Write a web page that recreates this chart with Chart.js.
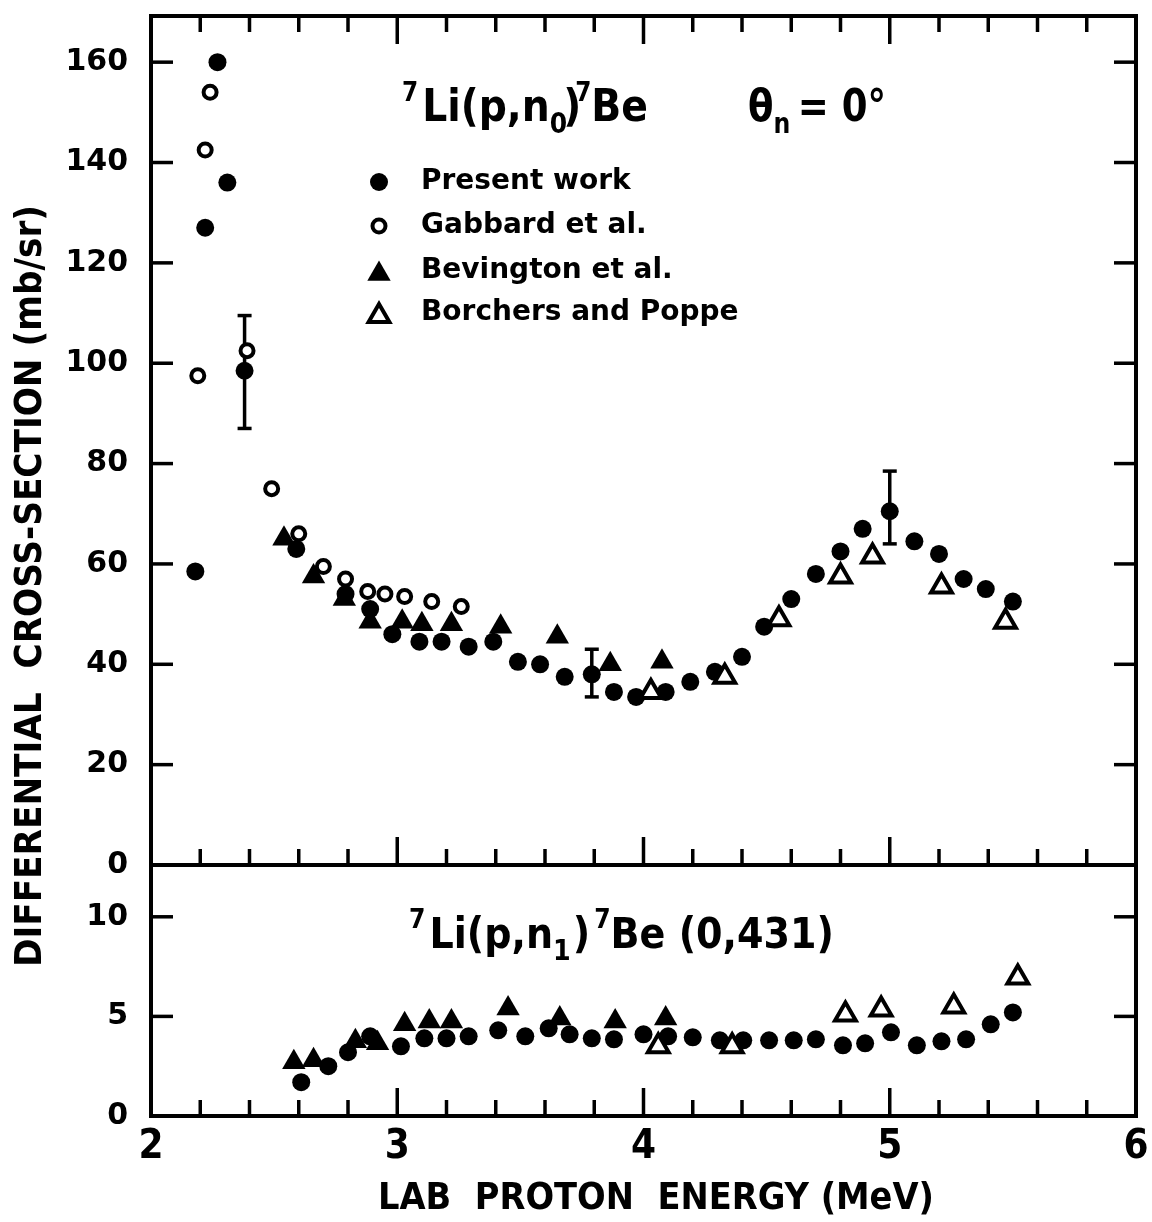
<!DOCTYPE html>
<html>
<head>
<meta charset="utf-8">
<script src="https://cdn.jsdelivr.net/npm/chart.js@4.4.1/dist/chart.umd.min.js"></script>
<style>
html, body { margin: 0; padding: 0; background: #fff; }
</style>
</head>
<body>
<canvas id="xsec" width="1152" height="1222" style="width:1152px;height:1222px"></canvas>
<script>
// 7Li(p,n0)7Be, theta = 0 deg  (energy in MeV, cross section in mb/sr)
var n0PresentE = [2.18, 2.22, 2.27, 2.31, 2.38, 2.59, 2.79, 2.89, 2.98, 3.09, 3.18, 3.29, 3.39, 3.49, 3.58, 3.68, 3.79, 3.88, 3.97, 4.09, 4.19, 4.29, 4.40, 4.49, 4.60, 4.70, 4.80, 4.89, 5.00, 5.10, 5.20, 5.30, 5.39, 5.50];
var n0PresentS = [58.5, 127, 160, 136, 98.5, 63, 54, 51, 46, 44.5, 44.5, 43.5, 44.5, 40.5, 40, 37.5, 38, 34.5, 33.5, 34.5, 36.5, 38.5, 41.5, 47.5, 53, 58, 62.5, 67, 70.5, 64.5, 62, 57, 55, 52.5];

var n0GabbardE = [2.19, 2.22, 2.24, 2.39, 2.49, 2.60, 2.70, 2.79, 2.88, 2.95, 3.03, 3.14, 3.26];
var n0GabbardS = [97.5, 142.5, 154, 102.5, 75, 66, 59.5, 57, 54.5, 54, 53.5, 52.5, 51.5];

var n0BevingtonE = [2.54, 2.66, 2.785, 2.89, 3.02, 3.10, 3.22, 3.42, 3.65, 3.865, 4.075];
var n0BevingtonS = [65, 57.5, 53, 48.5, 48.5, 48, 48, 47.5, 45.5, 40, 40.5];

var n0BorchersE = [4.03, 4.33, 4.55, 4.80, 4.93, 5.21, 5.47];
var n0BorchersS = [34.5, 37.5, 49, 57.5, 61.5, 55.5, 48.5];

// error bars on a few "present work" points
var errE = [2.38, 3.79, 5.00];
var errLo = [87, 33.5, 64];
var errHi = [109.5, 43, 78.5];

// 7Li(p,n1)7Be (0.431)
var n1PresentE = [2.61, 2.72, 2.80, 2.89, 3.015, 3.11, 3.20, 3.29, 3.41, 3.52, 3.615, 3.70, 3.79, 3.88, 4.00, 4.10, 4.20, 4.31, 4.405, 4.51, 4.61, 4.70, 4.81, 4.90, 5.005, 5.11, 5.21, 5.31, 5.41, 5.50];
var n1PresentS = [1.7, 2.5, 3.2, 4.0, 3.5, 3.9, 3.9, 4.0, 4.3, 4.0, 4.4, 4.1, 3.9, 3.85, 4.1, 4.0, 3.95, 3.8, 3.8, 3.8, 3.8, 3.85, 3.55, 3.65, 4.2, 3.55, 3.75, 3.85, 4.6, 5.2];

var n1BevingtonE = [2.58, 2.66, 2.83, 2.92, 3.03, 3.13, 3.22, 3.45, 3.66, 3.885, 4.09];
var n1BevingtonS = [2.7, 2.8, 3.75, 3.65, 4.6, 4.75, 4.75, 5.4, 4.9, 4.75, 4.9];

var n1BorchersE = [4.06, 4.36, 4.82, 4.965, 5.26, 5.52];
var n1BorchersS = [3.5, 3.5, 5.1, 5.35, 5.5, 6.95];

var xTicks = [2, 3, 4, 5, 6];
var upTicks = [0, 20, 40, 60, 80, 100, 120, 140, 160];
var loTicks = [0, 5, 10];

var legendNames = ['Present work', 'Gabbard et al.', 'Bevington et al.', 'Borchers and Poppe'];

var narrow = '"DejaVu Sans Condensed", "DejaVu Sans", sans-serif';
var wide = '"DejaVu Sans", sans-serif';

function pts(xs, ys) {
  return xs.map(function (x, i) { return { x: x, y: ys[i] }; });
}

var sym = {
  filledCircle: { pointStyle: 'circle', radius: 9, fill: '#000', border: 0 },
  openCircle: { pointStyle: 'circle', radius: 6.5, fill: '#fff', border: 4 },
  filledTri: { pointStyle: 'triangle', radius: 13.5, fill: '#000', border: 0 },
  openTri: { pointStyle: 'triangle', radius: 12, fill: '#fff', border: 4 }
};

function ds(label, xs, ys, axis, s) {
  return {
    label: label,
    data: pts(xs, ys),
    yAxisID: axis,
    pointStyle: s.pointStyle,
    pointRadius: s.radius,
    pointHoverRadius: s.radius,
    pointBackgroundColor: s.fill,
    pointBorderColor: '#000',
    pointBorderWidth: s.border
  };
}

function seg(ctx, x1, y1, x2, y2) {
  ctx.beginPath();
  ctx.moveTo(x1, y1);
  ctx.lineTo(x2, y2);
  ctx.stroke();
}

// draws a row of text pieces (for super/subscripts) squeezed to a given width
function richText(ctx, x0, base, width, pieces) {
  var total = 0;
  pieces.forEach(function (p) {
    ctx.font = p.font;
    p.w = ctx.measureText(p.t).width;
    total += p.w + (p.gap || 0);
  });
  var k = width / total;
  ctx.save();
  ctx.translate(x0, base);
  ctx.scale(k, 1);
  ctx.textBaseline = 'alphabetic';
  ctx.textAlign = 'left';
  var cx = 0;
  pieces.forEach(function (p) {
    ctx.font = p.font;
    ctx.fillText(p.t, cx, p.dy || 0);
    cx += p.w + (p.gap || 0);
  });
  ctx.restore();
}

function fitText(ctx, text, cx, cy, width, font, rot) {
  ctx.save();
  ctx.font = font;
  var w = ctx.measureText(text).width;
  ctx.translate(cx, cy);
  ctx.rotate(rot);
  ctx.scale(width / w, 1);
  ctx.textAlign = 'center';
  ctx.textBaseline = 'middle';
  ctx.fillText(text, 0, 0);
  ctx.restore();
}

// keep the plot frame where the figure has it: no extra room for edge labels
function noEdgePadding(s) {
  s.paddingTop = 0;
  s.paddingBottom = 0;
  s.paddingLeft = 0;
  s.paddingRight = 0;
}

var framePlugin = {
  id: 'frame',
  beforeDatasetsDraw: function (chart) {
    var ctx = chart.ctx;
    var sx = chart.scales.x, up = chart.scales.yUp, lo = chart.scales.yLo;
    var L = sx.left, R = sx.right, T = up.top, M = up.bottom, B = lo.bottom;
    ctx.save();
    ctx.strokeStyle = '#000';
    ctx.lineWidth = 4;
    ctx.strokeRect(L, T, R - L, B - T);
    seg(ctx, L, M, R, M);

    ctx.lineWidth = 3.5;
    for (var i = 1; i < 20; i++) {
      var px = sx.getPixelForValue(2 + i * 0.2);
      var len = (i % 5 === 0) ? 28 : 16;
      seg(ctx, px, T, px, T + len);
      seg(ctx, px, M, px, M - len);
      seg(ctx, px, B, px, B - len);
    }
    upTicks.forEach(function (v) {
      if (v === 0) return;
      var py = up.getPixelForValue(v);
      seg(ctx, L, py, L + 22, py);
      seg(ctx, R, py, R - 22, py);
    });
    loTicks.forEach(function (v) {
      if (v === 0) return;
      var py = lo.getPixelForValue(v);
      seg(ctx, L, py, L + 22, py);
      seg(ctx, R, py, R - 22, py);
    });

    // error bars
    ctx.lineWidth = 3.5;
    errE.forEach(function (e, i) {
      var px = sx.getPixelForValue(e);
      var y1 = up.getPixelForValue(errLo[i]);
      var y2 = up.getPixelForValue(errHi[i]);
      seg(ctx, px, y1, px, y2);
      seg(ctx, px - 7, y1, px + 7, y1);
      seg(ctx, px - 7, y2, px + 7, y2);
    });
    ctx.restore();
  },
  afterDraw: function (chart) {
    var ctx = chart.ctx;
    ctx.save();
    ctx.fillStyle = '#000';

    // axis titles
    fitText(ctx, 'LAB  PROTON  ENERGY (MeV)', 656, 1199, 556, 'bold 38px ' + narrow, 0);
    fitText(ctx, 'DIFFERENTIAL  CROSS-SECTION (mb/sr)', 31, 586, 762, 'bold 38px ' + narrow, -Math.PI / 2);

    // reaction labels
    var big = 'bold 44px ' + narrow, sup = 'bold 26px ' + narrow, sub = 'bold 28px ' + narrow;
    richText(ctx, 402, 121, 246, [
      { t: '7', font: sup, dy: -20, gap: 4 },
      { t: 'Li(p,n', font: big },
      { t: '0', font: sub, dy: 12, gap: -4 },
      { t: ')', font: big, gap: -6 },
      { t: '7', font: sup, dy: -20 },
      { t: 'Be', font: big }
    ]);
    richText(ctx, 748, 121, 138, [
      { t: '\u03b8', font: big },
      { t: 'n', font: sub, dy: 12, gap: 8 },
      { t: '= 0', font: big },
      { t: '\u00b0', font: big }
    ]);
    var big2 = 'bold 42px ' + narrow;
    richText(ctx, 409, 948, 425, [
      { t: '7', font: sup, dy: -20, gap: 4 },
      { t: 'Li(p,n', font: big2 },
      { t: '1', font: sub, dy: 12, gap: 2 },
      { t: ')', font: big2, gap: 4 },
      { t: '7', font: sup, dy: -20 },
      { t: 'Be (0,431)', font: big2 }
    ]);

    // legend
    var rows = [sym.filledCircle, sym.openCircle, sym.filledTri, sym.openTri];
    var rowY = [182, 226, 271, 313];
    ctx.font = 'bold 28px ' + wide;
    ctx.textAlign = 'left';
    ctx.textBaseline = 'middle';
    rows.forEach(function (s, i) {
      ctx.fillStyle = s.fill;
      ctx.strokeStyle = '#000';
      ctx.lineWidth = s.border;
      Chart.helpers.drawPoint(ctx, { pointStyle: s.pointStyle, radius: s.radius, rotation: 0, borderWidth: s.border }, 379, rowY[i] + (s.pointStyle === 'triangle' ? 3 : 0));
      ctx.fillStyle = '#000';
      ctx.fillText(legendNames[i], 421, rowY[i]);
    });
    ctx.restore();
  }
};

new Chart(document.getElementById('xsec'), {
  type: 'scatter',
  data: {
    datasets: [
      ds(legendNames[3], n0BorchersE, n0BorchersS, 'yUp', sym.openTri),
      ds(legendNames[1], n0GabbardE, n0GabbardS, 'yUp', sym.openCircle),
      ds(legendNames[0], n0PresentE, n0PresentS, 'yUp', sym.filledCircle),
      ds(legendNames[2], n0BevingtonE, n0BevingtonS, 'yUp', sym.filledTri),
      ds(legendNames[3], n1BorchersE, n1BorchersS, 'yLo', sym.openTri),
      ds(legendNames[0], n1PresentE, n1PresentS, 'yLo', sym.filledCircle),
      ds(legendNames[2], n1BevingtonE, n1BevingtonS, 'yLo', sym.filledTri)
    ]
  },
  options: {
    responsive: false,
    animation: false,
    devicePixelRatio: 1,
    layout: { padding: { left: 0, right: 14, top: 16, bottom: 0 } },
    plugins: { legend: { display: false }, tooltip: { enabled: false } },
    scales: {
      x: {
        type: 'linear',
        min: 2,
        max: 6,
        afterBuildTicks: function (s) { s.ticks = xTicks.map(function (v) { return { value: v }; }); },
        afterFit: function (s) { s.height = 106; noEdgePadding(s); },
        grid: { display: false, drawTicks: false },
        border: { display: false },
        ticks: { color: '#000', padding: 8, maxRotation: 0, font: { family: narrow, size: 40, weight: 'bold' } }
      },
      yLo: {
        type: 'linear',
        position: 'left',
        stack: 'panels',
        stackWeight: 251,
        min: 0,
        max: 12.6,
        afterBuildTicks: function (s) { s.ticks = loTicks.map(function (v) { return { value: v }; }); },
        afterFit: function (s) { s.width = 151; noEdgePadding(s); },
        grid: { display: false, drawTicks: false },
        border: { display: false },
        ticks: { color: '#000', padding: 23, font: { family: wide, size: 30, weight: 'bold' } }
      },
      yUp: {
        type: 'linear',
        position: 'left',
        stack: 'panels',
        stackWeight: 849,
        min: 0,
        max: 169.2,
        afterBuildTicks: function (s) { s.ticks = upTicks.map(function (v) { return { value: v }; }); },
        afterFit: function (s) { s.width = 151; noEdgePadding(s); },
        grid: { display: false, drawTicks: false },
        border: { display: false },
        ticks: { color: '#000', padding: 23, font: { family: wide, size: 30, weight: 'bold' } }
      }
    }
  },
  plugins: [framePlugin]
});
</script>
</body>
</html>
